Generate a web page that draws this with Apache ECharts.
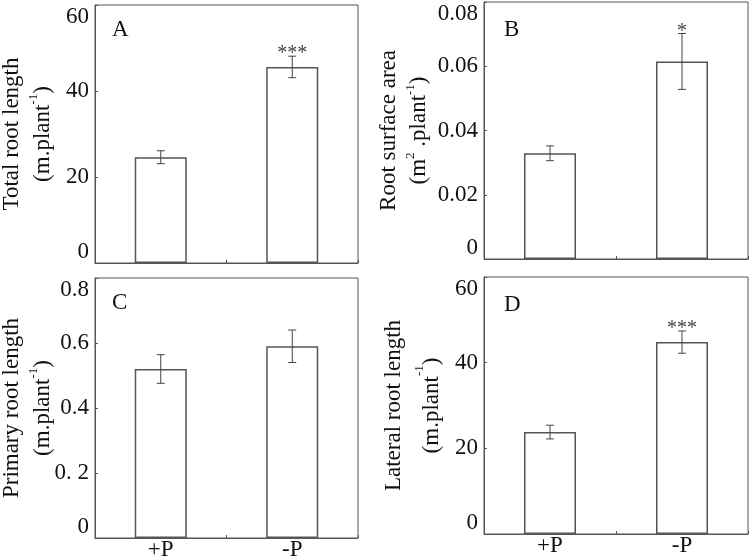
<!DOCTYPE html>
<html><head><meta charset="utf-8">
<script src="https://cdn.jsdelivr.net/npm/echarts@6/dist/echarts.min.js"></script>
<style>html,body{margin:0;padding:0;background:#fff}#c{width:752px;height:560px}</style>
</head><body><div id="c"></div>
<script>
// ---- data ----
var categories = ['+P', '-P'];
var totalRootLength = [24.6, 45.6];
var totalRootLengthErr = [1.5, 2.5];
var totalRootLengthSig = ['', '***'];
var rootSurfaceArea = [0.0329, 0.0615];
var rootSurfaceAreaErr = [0.0023, 0.0087];
var rootSurfaceAreaSig = ['', '*'];
var primaryRootLength = [0.52, 0.59];
var primaryRootLengthErr = [0.044, 0.05];
var primaryRootLengthSig = ['', ''];
var lateralRootLength = [23.8, 44.8];
var lateralRootLengthErr = [1.6, 2.6];
var lateralRootLengthSig = ['', '***'];
var ticksA = ['0', '20', '40', '60'];
var ticksB = ['0', '0.02', '0.04', '0.06', '0.08'];
var ticksC = ['0', '0. 2', '0.4', '0.6', '0.8'];
var ticksD = ['0', '20', '40', '60'];
var panelLetters = ['A', 'B', 'C', 'D'];

var FONT = '"Liberation Serif", "Times New Roman", serif';
var LINE = '#555';
var FS = 23;

var panels = [
  {grid:{left:95, top:5, width:263, height:258}, vals:totalRootLength, err:totalRootLengthErr, sig:totalRootLengthSig, ticks:ticksA, max:60, interval:20, showX:false,
   name:'{a|Total root length}\n{a|(m.plant}{s|-1}{a|)}', gap:37, lh:31, letter:[17,17]},
  {grid:{left:484, top:2, width:264, height:257}, vals:rootSurfaceArea, err:rootSurfaceAreaErr, sig:rootSurfaceAreaSig, ticks:ticksB, max:0.08, interval:0.02, showX:false,
   name:'{a|Root surface area}\n{a|(m}{s|2}{a| .plant}{s|-1}{a|)}', gap:50, lh:30, letter:[20,20]},
  {grid:{left:95, top:278, width:263, height:260}, vals:primaryRootLength, err:primaryRootLengthErr, sig:primaryRootLengthSig, ticks:ticksC, max:0.8, interval:0.2, showX:true,
   name:'{a|Primary root length}\n{a|(m.plant}{s|-1}{a|)}', gap:37, lh:31, letter:[17,17]},
  {grid:{left:484, top:277, width:264, height:257}, vals:lateralRootLength, err:lateralRootLengthErr, sig:lateralRootLengthSig, ticks:ticksD, max:60, interval:20, showX:true,
   name:'{a|Lateral root length}\n{a|(m.plant}{s|-1}{a|)}', gap:33, lh:38, letter:[20,20]}
];

var option = {backgroundColor:'#fff', animation:false, grid:[], xAxis:[], yAxis:[], series:[], graphic:[]};

panels.forEach(function(p, i){
  option.grid.push(Object.assign({show:true, borderColor:LINE, borderWidth:1, backgroundColor:'transparent', containLabel:false, outerBoundsMode:'none'}, p.grid));
  option.xAxis.push({
    type:'category', gridIndex:i, data:categories,
    axisLine:{lineStyle:{color:LINE, width:1}},
    axisTick:{show:true, inside:true, length:3, lineStyle:{color:LINE}},
    axisLabel:{show:p.showX, color:'#111', fontFamily:FONT, fontSize:FS, margin:0}
  });
  var ticks = p.ticks, interval = p.interval;
  option.yAxis.push({
    type:'value', gridIndex:i, min:0, max:p.max, interval:interval,
    splitLine:{show:false},
    axisLine:{show:true, lineStyle:{color:LINE, width:1}},
    axisTick:{show:true, inside:true, length:3, lineStyle:{color:LINE}},
    axisLabel:{color:'#111', fontFamily:FONT, fontSize:FS, margin:6,
      verticalAlignMinLabel:'bottom', verticalAlignMaxLabel:'top',
      formatter:function(v){ return ticks[Math.round(v/interval)]; }},
    name:p.name, nameLocation:'middle', nameRotate:90, nameGap:p.gap, nameMoveOverlap:false,
    nameTextStyle:{fontFamily:FONT, color:'#111', lineHeight:p.lh,
      rich:{a:{fontFamily:FONT, fontSize:FS, color:'#111', lineHeight:p.lh}, s:{fontFamily:FONT, fontSize:13, color:'#111', verticalAlign:'top', padding:[0,0,9,0]}}}
  });
  option.series.push({
    type:'bar', xAxisIndex:i, yAxisIndex:i, data:p.vals, barWidth:52,
    itemStyle:{color:'#fff', borderColor:LINE, borderWidth:1.5}, silent:true
  });
  var errData = p.vals.map(function(v, k){ return [k, v, p.err[k], p.sig[k]]; });
  option.series.push({
    type:'custom', xAxisIndex:i, yAxisIndex:i, data:errData, silent:true, z:5,
    renderItem:function(params, api){
      var x = api.value(0), v = api.value(1), e = api.value(2), s = api.value(3);
      var top = api.coord([x, v + e]), bot = api.coord([x, v - e]);
      var hw = 4;
      var st = {stroke:'#444', lineWidth:1};
      var children = [
        {type:'line', shape:{x1:top[0], y1:top[1], x2:bot[0], y2:bot[1]}, style:st},
        {type:'line', shape:{x1:top[0]-hw, y1:top[1], x2:top[0]+hw, y2:top[1]}, style:st},
        {type:'line', shape:{x1:bot[0]-hw, y1:bot[1], x2:bot[0]+hw, y2:bot[1]}, style:st}
      ];
      if (s) {
        children.push({type:'text', x:top[0], y:top[1]+8, style:{text:s, font:'20px ' + FONT, fill:'#444', align:'center', verticalAlign:'bottom'}});
      }
      return {type:'group', children:children};
    }
  });
  option.graphic.push({type:'text', left:p.grid.left + p.letter[0], top:p.grid.top + p.letter[1] - 4,
    style:{text:panelLetters[i], font:FS + 'px ' + FONT, fill:'#111'}});
});

var chart = echarts.init(document.getElementById('c'), null, {renderer:'canvas'});
chart.setOption(option);
</script></body></html>
